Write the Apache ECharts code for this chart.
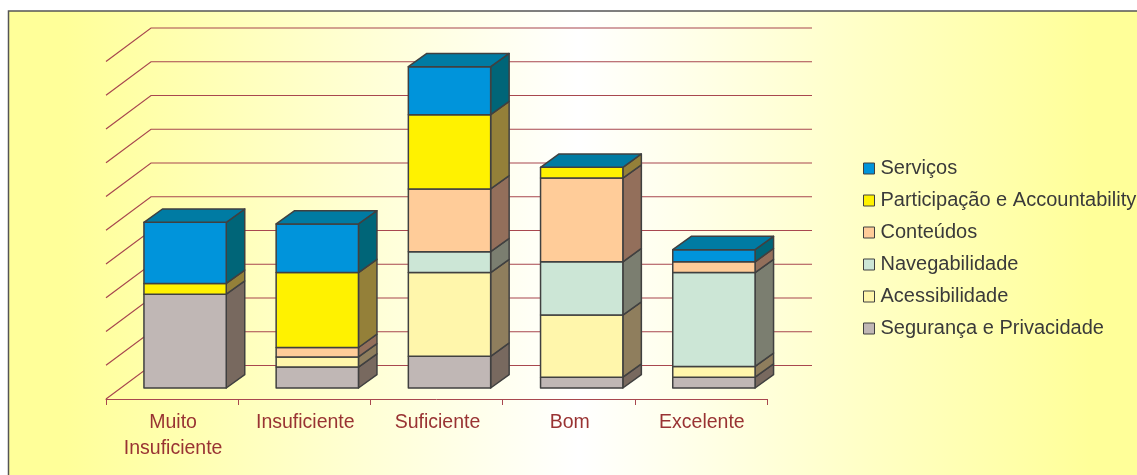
<!DOCTYPE html>
<html>
<head>
<meta charset="utf-8">
<style>html,body{margin:0;padding:0;background:#fff}#chart{width:1137px;height:475px}</style>
<script src="https://cdn.jsdelivr.net/npm/echarts@6/dist/echarts.min.js"></script>
</head>
<body>
<div id="chart"></div>
<script>
// Percentagem de avaliações por nível e por dimensão
const categories = ['Muito\nInsuficiente', 'Insuficiente', 'Suficiente', 'Bom', 'Excelente'];
const seguranca     = [13.9, 3.1, 4.7, 1.6, 1.6];
const acessibilidade = [0, 1.5, 12.4, 9.2, 1.6];
const navegabilidade = [0, 0, 3.1, 7.9, 13.9];
const conteudos     = [0, 1.4, 9.3, 12.4, 1.6];
const participacao  = [1.6, 11.1, 11.0, 1.6, 0];
const servicos      = [9.05, 7.2, 7.1, 0, 1.8];
const wallTicks = [0, 5, 10, 15, 20, 25, 30, 35, 40, 45, 50];

const stackOrder = [
  { name: 'Segurança e Privacidade', values: seguranca, front: '#C0B7B5', side: '#78695F' },
  { name: 'Acessibilidade', values: acessibilidade, front: '#FFF6AB', side: '#8F7E5D' },
  { name: 'Navegabilidade', values: navegabilidade, front: '#CCE6D6', side: '#7B7E70' },
  { name: 'Conteúdos', values: conteudos, front: '#FFCC99', side: '#936F5B' },
  { name: 'Participação e Accountability', values: participacao, front: '#FFF200', side: '#948039' },
  { name: 'Serviços', values: servicos, front: '#0094DB', side: '#006578' }
];

// Projecção oblíqua: profundidade da parede e das colunas
const WALL_DX = 45, WALL_DY = -33.5;
const BAR_DX = 18.5, BAR_DY = -13.3;
const BAR_OFF_X = 13, BAR_OFF_Y = -11;
const BAR_RATIO = 0.6226;
const EDGE = '#404040';
const TOP_COLOR = '#007BA3';
const GRID_COLOR = '#A8474F';

function wallItem(params, api) {
  const cs = params.coordSys;
  const y = api.coord([0, api.value(0)])[1];
  const x0 = cs.x;
  const x1 = cs.x + cs.width;
  return {
    type: 'polyline',
    shape: { points: [[x0, y], [x0 + WALL_DX, y + WALL_DY], [x1 + WALL_DX, y + WALL_DY]] },
    style: { fill: null, stroke: GRID_COLOR, lineWidth: 1.2 },
    silent: true
  };
}

function barRenderer(cfg, isTop) {
  return function (params, api) {
    const idx = api.value(0);
    const start = api.value(1);
    const end = api.value(2);
    const band = api.size([1, 0])[0];
    const w = band * BAR_RATIO;
    const base = api.coord([idx, start]);
    const head = api.coord([idx, end]);
    const x0 = base[0] - w / 2 + BAR_OFF_X;
    const x1 = x0 + w;
    const y0 = base[1] + BAR_OFF_Y;
    const y1 = head[1] + BAR_OFF_Y;
    const style = (fill) => ({ fill, stroke: EDGE, lineWidth: 1.5, lineJoin: 'round' });
    const children = [];
    if (end > start) {
      children.push({
        type: 'polygon',
        shape: { points: [[x1, y0], [x1 + BAR_DX, y0 + BAR_DY], [x1 + BAR_DX, y1 + BAR_DY], [x1, y1]] },
        style: style(cfg.side)
      });
      children.push({
        type: 'polygon',
        shape: { points: [[x0, y0], [x1, y0], [x1, y1], [x0, y1]] },
        style: style(cfg.front)
      });
    }
    if (isTop) {
      children.push({
        type: 'polygon',
        shape: { points: [[x0, y1], [x1, y1], [x1 + BAR_DX, y1 + BAR_DY], [x0 + BAR_DX, y1 + BAR_DY]] },
        style: style(TOP_COLOR)
      });
    }
    return { type: 'group', children };
  };
}

const totals = categories.map(() => 0);
const barSeries = stackOrder.map((cfg, i) => {
  const data = cfg.values.map((v, c) => {
    const item = [c, totals[c], totals[c] + v];
    totals[c] += v;
    return item;
  });
  return {
    type: 'custom',
    name: cfg.name,
    data,
    encode: { x: 0, y: [1, 2] },
    itemStyle: { color: cfg.front },
    renderItem: barRenderer(cfg, i === stackOrder.length - 1),
    silent: true
  };
});

const chart = echarts.init(document.getElementById('chart'), null, { renderer: 'canvas' });
chart.setOption({
  animation: false,
  graphic: [{
    type: 'rect',
    z: -10,
    silent: true,
    shape: { x: 8.5, y: 11, width: 1140, height: 480 },
    style: {
      stroke: '#555555',
      lineWidth: 1.5,
      fill: new echarts.graphic.LinearGradient(0, 0, 1, 0, [
        { offset: 0, color: '#FFFF99' },
        { offset: 0.05, color: '#FFFF99' },
        { offset: 0.5, color: '#FFFFFF' },
        { offset: 0.95, color: '#FFFF99' },
        { offset: 1, color: '#FFFF99' }
      ])
    }
  }],
  grid: { left: 106, top: 61.5, width: 661, height: 337.5 },
  xAxis: {
    type: 'category',
    data: categories,
    boundaryGap: true,
    axisLine: { lineStyle: { color: GRID_COLOR, width: 1 } },
    axisTick: { show: true, length: 6, lineStyle: { color: GRID_COLOR, width: 1 } },
    axisLabel: {
      color: '#993333',
      fontFamily: 'Liberation Sans',
      fontSize: 19.5,
      lineHeight: 26,
      margin: 11,
      interval: 0,
      padding: [0, 0, 0, 2]
    },
    splitLine: { show: false }
  },
  yAxis: {
    type: 'value',
    min: 0,
    max: 50,
    interval: 5,
    show: false
  },
  legend: {
    orient: 'vertical',
    left: 863,
    top: 158,
    padding: 0,
    itemWidth: 11,
    itemHeight: 11,
    itemGap: 11,
    icon: 'rect',
    selectedMode: false,
    data: stackOrder.map(s => s.name).reverse(),
    itemStyle: { borderColor: EDGE, borderWidth: 1 },
    textStyle: {
      color: '#3A3A3A',
      fontFamily: 'Liberation Sans',
      fontSize: 20,
      padding: [0, 0, 3, 1],
      height: 18,
      lineHeight: 18
    }
  },
  series: [{
    type: 'custom',
    name: 'parede',
    data: wallTicks.map(v => [v]),
    encode: { y: 0 },
    renderItem: wallItem,
    silent: true,
    z: 1
  }].concat(barSeries)
});
</script>
</body>
</html>
